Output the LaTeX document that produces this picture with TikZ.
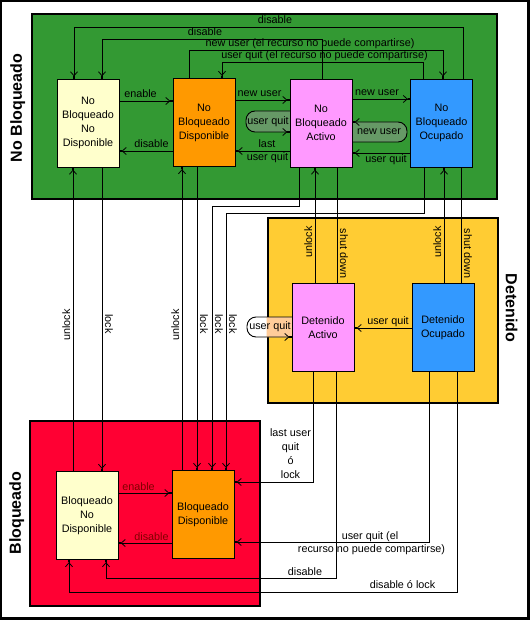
\documentclass[tikz,border=0pt]{standalone}
\usepackage{fontspec}
\setmainfont{Liberation Sans}
\usetikzlibrary{arrows.meta,calc}
\definecolor{cgreen}{HTML}{339933}
\definecolor{cyellow}{HTML}{FFCC33}
\definecolor{cred}{HTML}{FF0033}
\definecolor{cpale}{HTML}{FFFFCC}
\definecolor{corange}{HTML}{FF9900}
\definecolor{cpink}{HTML}{FF99FF}
\definecolor{cblue}{HTML}{3399FF}
\definecolor{cloopg}{HTML}{669966}
\definecolor{cpeach}{HTML}{FFCC99}
\definecolor{cdark}{HTML}{800000}
\begin{document}
\begin{tikzpicture}[x=1pt,y=-1pt,
  every node/.style={font=\fontsize{10.8}{14}\selectfont},
  state/.style={draw=black, line width=0.9pt, minimum width=62pt, minimum height=88pt, align=center, inner sep=0pt},
  region/.style={draw=black, line width=2.6pt},
  conn/.style={line width=0.9pt},
  arr/.style={conn, -{Straight Barb[length=4pt,width=7pt,line width=0.8pt]Square[length=2.2pt,width=2.2pt]}},
  lbl/.style={inner sep=0pt, anchor=base},
  vup/.style={lbl, rotate=90},
  vdn/.style={lbl, rotate=-90},
  big/.style={font=\fontsize{16}{18}\selectfont\bfseries, inner sep=0pt}
]
\useasboundingbox (0,0) rectangle (530,620);
\fill[black] (0,0) rectangle (530,620);
\fill[white] (2,2) rectangle (526.5,617);

% regions
\draw[region, fill=cgreen] (32,14) rectangle (497,199);
\draw[region, fill=cyellow] (268,218) rectangle (498,403);
\draw[region, fill=cred] (30,421) rectangle (260,606);

\node[big, rotate=90] (tnb) at (17.8,108) {No Bloqueado};
\node[big, rotate=90] (tb) at (16.7,513) {Bloqueado};
\node[big, rotate=-90] (td) at (511.7,308) {Detenido};

% loop fills
\fill[cloopg] (290,111) [rounded corners=9pt] -- (246,111) -- (246,132) [sharp corners] -- (290,132) -- cycle;
\fill[cloopg] (352,142) [rounded corners=9pt] -- (407,142) -- (407,122) [sharp corners] -- (352,122) -- cycle;
\fill[white] (292,317) [rounded corners=9pt] -- (247,317) -- (247,337) [sharp corners] -- (292,337) -- cycle;
\begin{scope}
\clip (266.7,218) rectangle (498,403);
\fill[cpeach] (292,317) [rounded corners=9pt] -- (247,317) -- (247,337) [sharp corners] -- (292,337) -- cycle;
\end{scope}

% states
\node[state, fill=cpale]   (nbnd) at (88,123)    {No\\Bloqueado\\No\\Disponible};
\node[state, fill=corange] (nbd)  at (204,122.5) {No\\Bloqueado\\Disponible};
\node[state, fill=cpink]   (nba)  at (321,123)   {No\\Bloqueado\\Activo};
\node[state, fill=cblue]   (nbo)  at (441.5,123) {No\\Bloqueado\\Ocupado};
\node[state, fill=cpink]   (da)   at (323,327.5) {Detenido\\Activo};
\node[state, fill=cblue]   (do)   at (443,327.5) {Detenido\\Ocupado};
\node[state, fill=cpale]   (bnd)  at (87,515.5)  {Bloqueado\\No\\Disponible};
\node[state, fill=corange] (bd)   at (203,514.5) {Bloqueado\\Disponible};

% bend coordinates
\coordinate (a1) at (463,27);  \coordinate (a2) at (74,27);
\coordinate (b1) at (322,39);  \coordinate (b2) at (102,39);
\coordinate (c1) at (189,50);  \coordinate (c2) at (443,50);
\coordinate (d1) at (423,62);  \coordinate (d2) at (222,62);
\coordinate (e1) at (299,206); \coordinate (e2) at (212,206);
\coordinate (f1) at (424,213); \coordinate (f2) at (226,213);
\coordinate (g1) at (313,482);
\coordinate (h1) at (336,578); \coordinate (h2) at (106,578);
\coordinate (i1) at (429,542);
\coordinate (j1) at (457,592); \coordinate (j2) at (69,592);
\coordinate (v73) at (73,0); \coordinate (v102) at (102,0);
\coordinate (v182) at (182,0); \coordinate (v197) at (197,0);
\coordinate (v315) at (315,0); \coordinate (v337) at (337,0);
\coordinate (v444) at (444,0); \coordinate (v461) at (461,0);
\coordinate (h101) at (0,101); \coordinate (h151) at (0,151);
\coordinate (h100) at (0,100); \coordinate (h99) at (0,99);
\coordinate (h153) at (0,153); \coordinate (h328) at (0,328);
\coordinate (h493) at (0,493); \coordinate (h543) at (0,543);

% top connectors
\draw[arr] (nbo.north -| a1) -- (a1) -- (a2) -- (nbnd.north -| a2);
\draw[arr] (nba.north -| b1) -- (b1) -- (b2) -- (nbnd.north -| b2);
\draw[arr] (nbd.north -| c1) -- (c1) -- (c2) -- (nbo.north -| c2);
\draw[arr] (nbo.north -| d1) -- (d1) -- (d2) -- (nbd.north -| d2);

% horizontal connectors in No Bloqueado
\draw[arr] (nbnd.east |- h101) -- (nbd.west |- h101);
\draw[arr] (nbd.west |- h151) -- (nbnd.east |- h151);
\draw[arr] (nbd.east |- h100) -- (nba.west |- h100);
\draw[arr] (nba.west |- h151) -- (nbd.east |- h151);
\draw[arr] (nba.east |- h99) -- (nbo.west |- h99);
\draw[arr] (nbo.west |- h153) -- (nba.east |- h153);
% loops
\draw[arr] (290,111) [rounded corners=9pt] -- (246,111) -- (246,132) [sharp corners] -- (nba.west |- 0,132);
\draw[arr] (352,142) [rounded corners=9pt] -- (407,142) -- (407,122) [sharp corners] -- (nba.east |- 0,122);
\draw[arr] (292,317) [rounded corners=9pt] -- (247,317) -- (247,337) [sharp corners] -- (da.west |- 0,337);

% verticals
\draw[arr] (bnd.north -| v73) -- (nbnd.south -| v73);
\draw[arr] (nbnd.south -| v102) -- (bnd.north -| v102);
\draw[arr] (bd.north -| v182) -- (nbd.south -| v182);
\draw[arr] (nbd.south -| v197) -- (bd.north -| v197);
\draw[arr] (nba.south -| e1) -- (e1) -- (e2) -- (bd.north -| e2);
\draw[arr] (nbo.south -| f1) -- (f1) -- (f2) -- (bd.north -| f2);
\draw[arr] (da.north -| v315) -- (nba.south -| v315);
\draw[conn] (nba.south -| v337) -- (da.north -| v337);
\draw[arr] (do.north -| v444) -- (nbo.south -| v444);
\draw[conn] (nbo.south -| v461) -- (do.north -| v461);

% detenido
\draw[arr] (do.west |- h328) -- (da.east |- h328);
\draw[arr] (da.south -| g1) -- (g1) -- (bd.east |- g1);
\draw[arr] (da.south -| h1) -- (h1) -- (h2) -- (bnd.south -| h2);
\draw[arr] (do.south -| i1) -- (i1) -- (bd.east |- i1);
\draw[arr] (do.south -| j1) -- (j1) -- (j2) -- (bnd.south -| j2);

% bloqueado
\draw[arr] (bnd.east |- h493) -- (bd.west |- h493);
\draw[arr] (bd.west |- h543) -- (bnd.east |- h543);

% labels
\node[lbl] (l1) at (275,24) {disable};
\node[lbl] (l2) at (205,36) {disable};
\node[lbl] (l3) at (310,47) {new user (el recurso no puede compartirse)};
\node[lbl] (l4) at (324.5,59) {user quit (el recurso no puede compartirse)};
\node[lbl] (l5) at (140.5,98) {enable};
\node[lbl] (l6) at (151.5,148) {disable};
\node[lbl] (l7) at (259.5,97) {new user};
\node[lbl] (l9a) at (267,148) {last};
\node[lbl] (l9b) at (267.5,161) {user quit};
\node[lbl] (l10) at (377,96) {new user};
\node[lbl] (l12) at (386,163) {user quit};
\node[inner sep=0pt] (lp1) at (268,121.5) {user quit};
\node[inner sep=0pt] (lp2) at (379,132) {new user};
\node[inner sep=0pt] (lp3) at (270,327) {user quit};
\node[lbl] (l13) at (388,324) {user quit};
\node[lbl, text=cdark] (l14) at (138.5,490) {enable};
\node[lbl, text=cdark] (l15) at (151.5,540) {disable};
\node[inner sep=0pt, align=center] (l16) at (290.5,454) {last user\\quit\\ó\\lock};
\node[lbl] (l17a) at (370,539) {user quit (el};
\node[lbl] (l17b) at (371.5,552.5) {recurso no puede compartirse)};
\node[lbl] (l18) at (305,575.5) {disable};
\node[lbl] (l19) at (402.5,588.5) {disable ó lock};

\node[vup] (u1) at (70,325) {unlock};
\node[vdn] (k1) at (105,324) {lock};
\node[vup] (u2) at (179,325) {unlock};
\node[vdn] (k2) at (200,324) {lock};
\node[vdn] (k3) at (215,324) {lock};
\node[vdn] (k4) at (229,324) {lock};
\node[vup] (u3) at (312,242) {unlock};
\node[vdn] (s1) at (340,253.5) {shut down};
\node[vup] (u4) at (441,242) {unlock};
\node[vdn] (s2) at (464,253.5) {shut down};
\end{tikzpicture}
\end{document}
